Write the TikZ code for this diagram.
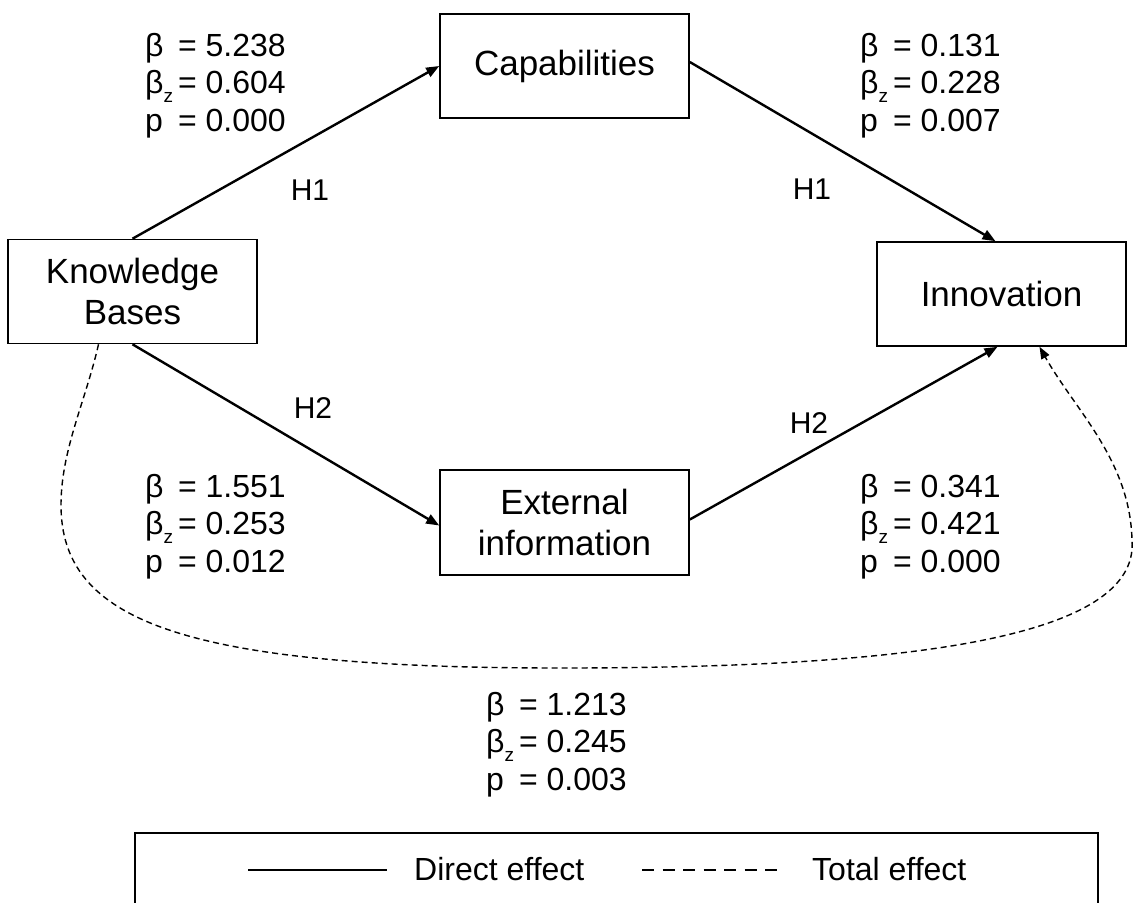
\documentclass[tikz,border=0pt]{standalone}
\usepackage{fontspec}
\setmainfont{Liberation Sans}
\usetikzlibrary{arrows.meta}
\tikzset{
  varbox/.style={draw, line width=1.6pt, minimum width=249pt, align=center, inner sep=0pt,
    font=\fontsize{35}{41}\selectfont},
  direct/.style={line width=2.4pt, -{Stealth[length=13pt,width=10pt,inset=0pt]}},
  total/.style={line width=1.4pt, dash pattern=on 6pt off 4pt, -{Stealth[length=12pt,width=9pt,inset=0pt]}},
  stat/.style={anchor=north west, inner sep=0pt, align=left, font=\fontsize{32}{37}\selectfont},
  hyp/.style={inner sep=0pt, font=\fontsize{30}{36}\selectfont},
  legtext/.style={inner sep=0pt, anchor=west, font=\fontsize{32}{37}\selectfont},
}
\newcommand{\bz}{β\raisebox{-0.28em}{\fontsize{19}{19}\selectfont z}}
\newcommand{\statblock}[3]{\begin{tabular}{@{}l@{\hspace{5pt}}l@{}}β & = #1\\[0.5pt] \bz & = #2\\[0.5pt] p & = #3\end{tabular}}
\begin{document}
\begin{tikzpicture}[x=1pt,y=-1pt]
\useasboundingbox (0,0) rectangle (1134,902);
\node[varbox, minimum height=104pt] (kb) at (132.5,291.5) {Knowledge\\Bases};
\node[varbox, minimum height=104pt] (cap) at (564.5,66) {Capabilities};
\node[varbox, minimum height=104pt] (inn) at (1001.5,294) {Innovation};
\node[varbox, minimum height=105pt] (ext) at (564.5,522.5) {External\\information};

\node[stat] (s1) at (145,30) {\statblock{5.238}{0.604}{0.000}};
\node[stat] (s2) at (860,30) {\statblock{0.131}{0.228}{0.007}};
\node[stat] (s3) at (145,471) {\statblock{1.551}{0.253}{0.012}};
\node[stat] (s4) at (860,471) {\statblock{0.341}{0.421}{0.000}};
\node[stat] (s5) at (486,689) {\statblock{1.213}{0.245}{0.003}};

\node[hyp] (h1a) at (310,190) {H1};
\node[hyp] (h1b) at (812,189) {H1};
\node[hyp] (h2a) at (313,408) {H2};
\node[hyp] (h2b) at (809,423) {H2};

\draw[direct] (kb.north) -- (cap.west);
\draw[direct] ([yshift=4pt]cap.east) -- ([xshift=-6pt]inn.north);
\draw[direct] (kb.south) -- ([yshift=-3pt]ext.west);
\draw[direct] ([yshift=3pt]ext.east) -- ([xshift=-4pt]inn.south);

\coordinate (ts) at ([xshift=-34pt]kb.south);
\coordinate (te) at ([xshift=38pt]inn.south);
\coordinate (tl) at (61,505);
\coordinate (tb) at (560,668);
\coordinate (tr) at (1132,540);
\draw[total] (ts) .. controls (86,400) and (61,450) .. (tl)
  .. controls (61,620) and (180,668) .. (tb)
  .. controls (900,668) and (1140,640) .. (tr)
  .. controls (1130,460) and (1075,410) .. (te);

\draw[line width=1.6pt] (1098,910) -- (1098,833) -- (135,833) -- (135,910);
\coordinate (l1a) at (248,870);
\coordinate (l1b) at (387,870);
\coordinate (l2a) at (642,870);
\coordinate (l2b) at (782,870);
\draw[line width=2.6pt] (l1a) -- (l1b);
\draw[line width=1.8pt, dash pattern=on 12pt off 8.5pt] (l2a) -- (l2b);
\node[legtext] (ld) at (414,869) {Direct effect};
\node[legtext] (lt) at (812,869) {Total effect};
\end{tikzpicture}
\end{document}
